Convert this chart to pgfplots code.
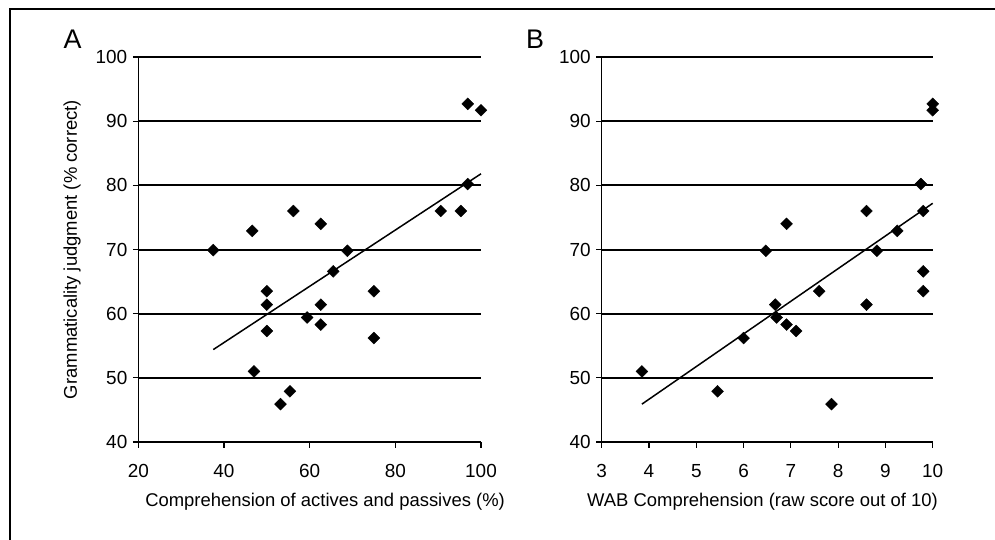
\documentclass[border=0pt]{standalone}
\usepackage{fontspec}
\setmainfont{Liberation Sans}
\usepackage{pgfplots}
\pgfplotsset{compat=1.18}

\pgfplotsset{
  panel/.style={
    scale only axis,
    height=385bp,
    anchor=south west,
    axis lines*=left,
    axis line style={black, line width=1.2bp},
    tick align=outside,
    major tick length=5.5bp,
    tick style={black, line width=1.2bp},
    ymin=40, ymax=100,
    ytick={50,60,...,100},
    extra y ticks={40},
    extra y tick style={grid=none},
    ymajorgrids,
    grid style={black, line width=2bp},
    clip=false,
    /pgf/number format/assume math mode=true,
    tick label style={font=\fontsize{19}{22}\selectfont},
    yticklabel style={xshift=-2bp},
    xticklabel style={yshift=-13bp},
    label style={font=\fontsize{18.5}{21}\selectfont},
  },
  pts/.style={only marks, mark=square*, mark size=4.2bp, black,
    mark options={rotate=45}},
  fit/.style={no marks, black, line width=1.5bp},
}

\begin{document}
\begin{tikzpicture}
\useasboundingbox (0,0) rectangle (995bp,540bp);
\draw[line width=2bp] (10bp,0) -- (10bp,531bp) -- (995bp,531bp);

\begin{axis}[panel, at={(138.3bp,98bp)}, width=342.7bp,
  xmin=20, xmax=100, xtick={20,40,...,100},
  xlabel={Comprehension of actives and passives (\%)},
  xlabel style={at={(axis description cs:0.545,0)}, anchor=base, yshift=-64.5bp},
  ylabel={Grammaticality judgment (\% correct)},
  ylabel style={at={(axis description cs:-0.1935,0.5)}, anchor=center}]
\addplot[pts] coordinates {
  (37.5,69.9) (46.6,72.9) (56.2,76.0) (62.6,74.0) (68.8,69.8) (65.5,66.6)
  (50.0,63.5) (50.0,61.4) (50.0,57.3) (59.4,59.4) (62.6,61.4) (62.6,58.3)
  (75.0,63.5) (75.0,56.2) (47.0,51.0) (55.4,47.9) (53.2,45.9) (90.6,76.0)
  (95.3,76.0) (96.9,80.2) (96.9,92.7) (100.0,91.7)
};
\addplot[fit] coordinates {(37.5,54.4) (100,81.8)};
\end{axis}

\begin{axis}[panel, at={(601.7bp,98bp)}, width=331bp,
  xmin=3, xmax=10, xtick={3,4,...,10},
  xlabel={WAB Comprehension (raw score out of 10)},
  xlabel style={at={(axis description cs:0.486,0)}, anchor=base, yshift=-64.5bp}]
\addplot[pts] coordinates {
  (3.85,51.0) (5.45,47.9) (6.00,56.2) (6.47,69.8) (6.67,61.4) (6.70,59.4)
  (6.91,74.0) (6.91,58.3) (7.11,57.3) (7.60,63.5) (7.86,45.9) (8.60,76.0)
  (8.60,61.4) (8.82,69.8) (9.25,72.9) (9.75,80.2) (9.80,76.0) (9.80,66.6)
  (9.80,63.5) (10.0,92.7) (10.0,91.7)
};
\addplot[fit] coordinates {(3.85,45.9) (10,77.2)};
\end{axis}

\node[font=\fontsize{27}{31}\selectfont] at (72.5bp,501bp) {A};
\node[font=\fontsize{27}{31}\selectfont] at (535bp,501bp) {B};
\end{tikzpicture}
\end{document}
